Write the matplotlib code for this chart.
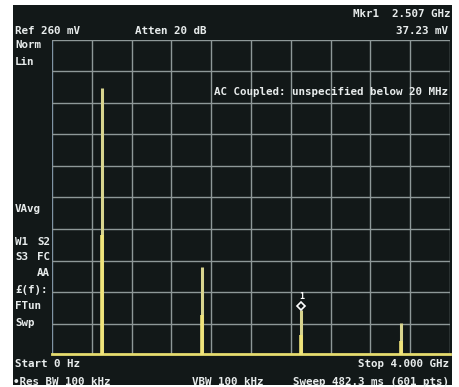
import matplotlib
matplotlib.use("Agg")
import matplotlib.pyplot as plt
from matplotlib.patches import Rectangle

peak_freq_ghz = [0.507, 1.507, 2.507, 3.507]
peak_amp_mv = [220.0, 72.5, 37.23, 26.5]
start_ghz, stop_ghz = 0.0, 4.0
ref_mv = 260.0
marker_freq = 2.507
marker_amp = 37.23

W, H = 460, 387
fig = plt.figure(figsize=(W / 100, H / 100), dpi=100, facecolor="white")

# dark screen background
fig.patches.append(Rectangle((13 / W, 2 / H), (452 - 13) / W, (380) / H,
                             transform=fig.transFigure, facecolor="#121818",
                             edgecolor="none", zorder=-5))

ax = fig.add_axes([52 / W, (H - 355) / H, (450 - 52) / W, (355 - 40) / H])
ax.set_zorder(2)
ax.set_facecolor("#121818")
ax.set_xlim(start_ghz, stop_ghz)
ax.set_ylim(0, ref_mv)
for i in range(11):
    x = start_ghz + i * (stop_ghz - start_ghz) / 10
    ax.axvline(x, color="#8e9898" if i > 0 else "#7f93a3", lw=1.0, zorder=1)
    y = i * ref_mv / 10
    ax.axhline(y, color="#8e9898", lw=1.0, zorder=1)
for s in ax.spines.values():
    s.set_visible(False)
ax.set_xticks([])
ax.set_yticks([])

# trace: baseline and peaks
ax.plot([start_ghz, stop_ghz], [0.8, 0.8], color="#e6dc6e", lw=2.0, zorder=3,
        clip_on=False)
for f, a in zip(peak_freq_ghz, peak_amp_mv):
    ax.vlines(f, 0, a, color="#d8d48e", lw=2.2, zorder=3)
    ax.vlines(f, 0, a * 0.45, color="#f0e47a", lw=2.6, zorder=3)

# marker
ax.plot([marker_freq], [marker_amp + 3], marker="D", ms=4.5, mfc="#121818",
        mec="white", mew=1.2, zorder=4)
ax.text(marker_freq, marker_amp + 11, "1", color="white", fontsize=6,
        ha="center", va="center", family="DejaVu Sans Mono", weight="bold",
        zorder=4)

txt = dict(color="#e8ecec", fontsize=7.8, family="DejaVu Sans Mono",
           weight="bold", transform=fig.transFigure, zorder=5)


def T(x, y, s, ha="left"):
    fig.text(x / W, 1 - y / H, s, ha=ha, va="center", **txt)


T(15, 31, "Ref 260 mV")
T(135, 31, "Atten 20 dB")
T(451, 14, "Mkr1  2.507 GHz", ha="right")
T(448, 31, "37.23 mV", ha="right")
T(15, 45, "Norm")
T(15, 62, "Lin")
T(448, 92, "AC Coupled: unspecified below 20 MHz", ha="right")
T(15, 209, "VAvg")
T(15, 242, "W1")
T(50, 242, "S2", ha="right")
T(15, 257, "S3")
T(50, 257, "FC", ha="right")
T(50, 273, "AA", ha="right")
T(15, 290, "£(f):")
T(15, 306, "FTun")
T(15, 323, "Swp")
T(15, 364, "Start 0 Hz")
T(449, 364, "Stop 4.000 GHz", ha="right")
T(13, 382, "•Res BW 100 kHz")
T(192, 382, "VBW 100 kHz")
T(449, 382, "Sweep 482.3 ms (601 pts)", ha="right")

fig.savefig("out.png", dpi=100, facecolor="white")
